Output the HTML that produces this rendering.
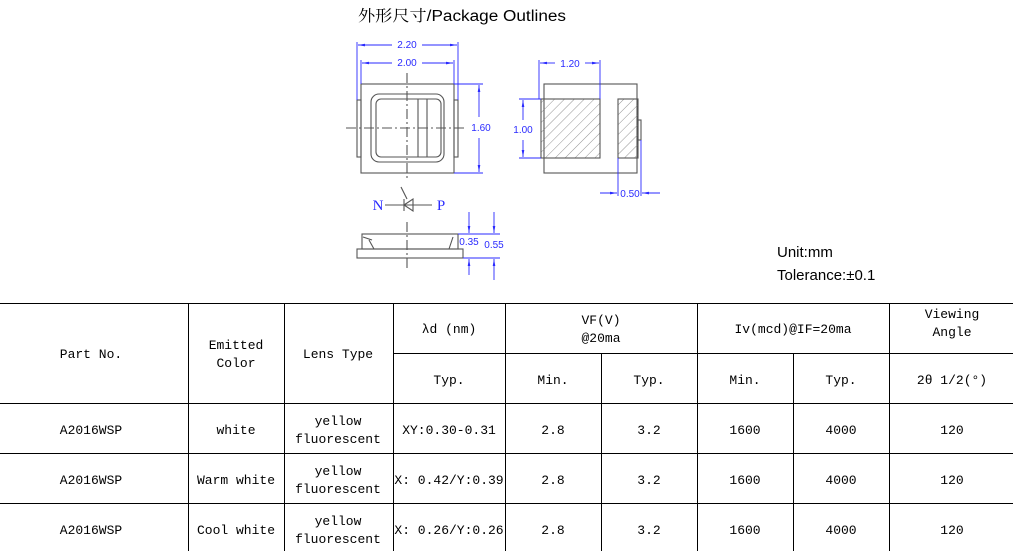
<!DOCTYPE html>
<html><head><meta charset="utf-8"><style>
body{margin:0;background:#fff;width:1013px;height:551px;overflow:hidden}
svg{display:block}
.t{font-family:"Liberation Mono","Noto Sans CJK SC",monospace;font-size:13px;fill:#000;text-anchor:middle}
.d{font-family:"Liberation Sans",sans-serif;font-size:10px;fill:#2a2aff;text-anchor:middle}
</style></head><body>
<svg width="1013" height="551" viewBox="0 0 1013 551" xmlns="http://www.w3.org/2000/svg">
<defs>
<pattern id="h" width="7" height="7" patternUnits="userSpaceOnUse" patternTransform="rotate(45)">
<line x1="0" y1="0" x2="0" y2="7" stroke="#777" stroke-width="0.8"/></pattern>
<marker id="a" markerWidth="8" markerHeight="6" refX="8" refY="3" orient="auto"><path d="M0,1.5 L8,3 L0,4.5z" fill="#2a2aff"/></marker>
</defs>
<text x="358" y="21" textLength="208" lengthAdjust="spacingAndGlyphs" style="font-family:'Liberation Sans','Noto Serif CJK SC',sans-serif;font-size:15.5px">外形尺寸/Package Outlines</text>
<g fill="none" stroke="#555" stroke-width="1.1">
<rect x="361" y="84" width="93" height="89"/>
<rect x="357" y="100" width="4" height="57"/><rect x="454" y="100" width="4" height="57"/>
<rect x="371" y="94" width="73" height="68" rx="8"/>
<rect x="376" y="99" width="65" height="58" rx="5"/>
<line x1="418" y1="99" x2="418" y2="157"/><line x1="427" y1="99" x2="427" y2="157"/>
<line x1="407" y1="73" x2="407" y2="180" stroke-dasharray="10,3,2,3"/>
<line x1="346" y1="128" x2="465" y2="128" stroke-dasharray="10,3,2,3"/>
<rect x="544" y="84" width="93" height="89"/>
<rect x="541" y="99" width="59" height="59" fill="url(#h)"/>
<rect x="618" y="99" width="20" height="59" fill="url(#h)"/>
<rect x="638" y="120" width="3" height="20"/>
<rect x="362" y="234" width="96" height="15"/>
<rect x="357" y="249" width="106" height="9"/>
<line x1="407" y1="222" x2="407" y2="268" stroke-dasharray="10,3,2,3"/>
<line x1="363" y1="237" x2="372" y2="240"/><line x1="369" y1="240" x2="374" y2="249"/><line x1="453" y1="237" x2="449" y2="249"/>
<line x1="385" y1="205" x2="432" y2="205"/>
<path d="M404,205 L413,199 L413,211z"/><line x1="404" y1="199" x2="404" y2="211"/>
<line x1="401" y1="187" x2="407" y2="199"/>
</g>
<text x="378" y="210" style="font-family:'Liberation Serif',serif;font-size:15px;fill:#2a2aff" text-anchor="middle">N</text>
<text x="441" y="210" style="font-family:'Liberation Serif',serif;font-size:15px;fill:#2a2aff" text-anchor="middle">P</text>
<g stroke="#2a2aff" stroke-width="0.9" fill="none">
<line x1="357" y1="42" x2="357" y2="100"/><line x1="458" y1="42" x2="458" y2="100"/>
<line x1="392" y1="45" x2="358" y2="45" marker-end="url(#a)"/><line x1="422" y1="45" x2="457" y2="45" marker-end="url(#a)"/>
<line x1="361" y1="60" x2="361" y2="84"/><line x1="454" y1="60" x2="454" y2="84"/>
<line x1="392" y1="63" x2="362" y2="63" marker-end="url(#a)"/><line x1="422" y1="63" x2="453" y2="63" marker-end="url(#a)"/>
<line x1="454" y1="84" x2="483" y2="84"/><line x1="454" y1="173" x2="483" y2="173"/>
<line x1="479" y1="117" x2="479" y2="85" marker-end="url(#a)"/><line x1="479" y1="138" x2="479" y2="172" marker-end="url(#a)"/>
<line x1="539" y1="60" x2="539" y2="99"/><line x1="600" y1="60" x2="600" y2="99"/>
<line x1="555" y1="63" x2="540" y2="63" marker-end="url(#a)"/><line x1="585" y1="63" x2="599" y2="63" marker-end="url(#a)"/>
<line x1="519" y1="99" x2="541" y2="99"/><line x1="519" y1="158" x2="541" y2="158"/>
<line x1="523" y1="120" x2="523" y2="100" marker-end="url(#a)"/><line x1="523" y1="140" x2="523" y2="157" marker-end="url(#a)"/>
<line x1="618" y1="158" x2="618" y2="196"/><line x1="641" y1="140" x2="641" y2="196"/>
<line x1="600" y1="193" x2="617" y2="193" marker-end="url(#a)"/><line x1="660" y1="193" x2="642" y2="193" marker-end="url(#a)"/>
<line x1="458" y1="234" x2="500" y2="234"/><line x1="463" y1="258" x2="500" y2="258"/>
<line x1="469" y1="212" x2="469" y2="233" marker-end="url(#a)"/><line x1="469" y1="275" x2="469" y2="259" marker-end="url(#a)"/>
<line x1="494" y1="212" x2="494" y2="233" marker-end="url(#a)"/><line x1="494" y1="280" x2="494" y2="259" marker-end="url(#a)"/>
</g>
<g class="d">
<rect x="392" y="38" width="30" height="12" fill="#fff"/><text x="407" y="48">2.20</text>
<rect x="392" y="56" width="30" height="12" fill="#fff"/><text x="407" y="66">2.00</text>
<text x="481" y="131">1.60</text>
<text x="570" y="67">1.20</text>
<text x="523" y="133">1.00</text>
<text x="630" y="197">0.50</text>
<text x="469" y="245">0.35</text>
<text x="494" y="248">0.55</text>
</g>
<text x="777" y="257" style="font-family:'Liberation Sans','Noto Sans CJK SC',sans-serif;font-size:15px">Unit:mm</text>
<text x="777" y="280" style="font-family:'Liberation Sans','Noto Sans CJK SC',sans-serif;font-size:15px">Tolerance:±0.1</text>
<g stroke="#000" stroke-width="1">
<line x1="0" y1="303.5" x2="1013" y2="303.5"/>
<line x1="393" y1="353.5" x2="1013" y2="353.5"/>
<line x1="0" y1="403.5" x2="1013" y2="403.5"/>
<line x1="0" y1="453.5" x2="1013" y2="453.5"/>
<line x1="0" y1="503.5" x2="1013" y2="503.5"/>
<line x1="188.5" y1="303" x2="188.5" y2="551"/><line x1="284.5" y1="303" x2="284.5" y2="551"/>
<line x1="393.5" y1="303" x2="393.5" y2="551"/><line x1="505.5" y1="303" x2="505.5" y2="551"/>
<line x1="601.5" y1="353" x2="601.5" y2="551"/><line x1="697.5" y1="303" x2="697.5" y2="551"/>
<line x1="793.5" y1="353" x2="793.5" y2="551"/><line x1="889.5" y1="303" x2="889.5" y2="551"/>
</g>
<g class="t">
<text x="91" y="358">Part No.</text>
<text x="236" y="349">Emitted</text><text x="236" y="367">Color</text>
<text x="338" y="358">Lens Type</text>
<text x="449" y="333">λd (nm)</text>
<text x="449" y="384">Typ.</text>
<text x="601" y="324">VF(V)</text><text x="601" y="342">@20ma</text>
<text x="553" y="384">Min.</text><text x="649" y="384">Typ.</text>
<text x="793" y="333">Iv(mcd)@IF=20ma</text>
<text x="745" y="384">Min.</text><text x="841" y="384">Typ.</text>
<text x="952" y="318">Viewing</text><text x="952" y="336">Angle</text>
<text x="952" y="384">2θ 1/2(°)</text>
<text x="91" y="434">A2016WSP</text><text x="236" y="434">white</text>
<text x="338" y="425">yellow</text><text x="338" y="443">fluorescent</text>
<text x="449" y="434">XY:0.30-0.31</text>
<text x="553" y="434">2.8</text><text x="649" y="434">3.2</text><text x="745" y="434">1600</text><text x="841" y="434">4000</text><text x="952" y="434">120</text>
<text x="91" y="484">A2016WSP</text><text x="236" y="484">Warm white</text>
<text x="338" y="475">yellow</text><text x="338" y="493">fluorescent</text>
<text x="449" y="484">X: 0.42/Y:0.39</text>
<text x="553" y="484">2.8</text><text x="649" y="484">3.2</text><text x="745" y="484">1600</text><text x="841" y="484">4000</text><text x="952" y="484">120</text>
<text x="91" y="534">A2016WSP</text><text x="236" y="534">Cool white</text>
<text x="338" y="525">yellow</text><text x="338" y="543">fluorescent</text>
<text x="449" y="534">X: 0.26/Y:0.26</text>
<text x="553" y="534">2.8</text><text x="649" y="534">3.2</text><text x="745" y="534">1600</text><text x="841" y="534">4000</text><text x="952" y="534">120</text>
</g>
</svg>
</body></html>
